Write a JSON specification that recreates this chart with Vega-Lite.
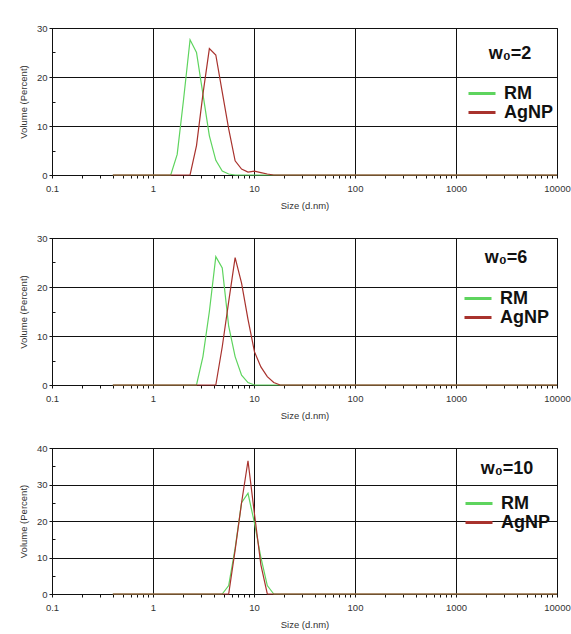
{
  "$schema": "https://vega.github.io/schema/vega-lite/v6.json",
  "background": "white",
  "padding": {"left": 17, "top": 22, "right": 0, "bottom": 5},
  "bounds": "flush",
  "spacing": 63,
  "data": {"values": [
    {"panel": "2", "series": "RM", "size": 0.4, "volume": 0},
    {"panel": "2", "series": "RM", "size": 1.499, "volume": 0},
    {"panel": "2", "series": "RM", "size": 1.736, "volume": 4.2},
    {"panel": "2", "series": "RM", "size": 2.01, "volume": 15.5},
    {"panel": "2", "series": "RM", "size": 2.328, "volume": 27.6},
    {"panel": "2", "series": "RM", "size": 2.696, "volume": 25},
    {"panel": "2", "series": "RM", "size": 3.122, "volume": 16.5},
    {"panel": "2", "series": "RM", "size": 3.615, "volume": 8},
    {"panel": "2", "series": "RM", "size": 4.187, "volume": 3},
    {"panel": "2", "series": "RM", "size": 4.849, "volume": 0.8},
    {"panel": "2", "series": "RM", "size": 5.615, "volume": 0.2},
    {"panel": "2", "series": "RM", "size": 6.503, "volume": 0},
    {"panel": "2", "series": "RM", "size": 10000, "volume": 0},
    {"panel": "2", "series": "AgNP", "size": 0.4, "volume": 0},
    {"panel": "2", "series": "AgNP", "size": 2.328, "volume": 0},
    {"panel": "2", "series": "AgNP", "size": 2.696, "volume": 6},
    {"panel": "2", "series": "AgNP", "size": 3.122, "volume": 16.5},
    {"panel": "2", "series": "AgNP", "size": 3.615, "volume": 25.8},
    {"panel": "2", "series": "AgNP", "size": 4.187, "volume": 24.5},
    {"panel": "2", "series": "AgNP", "size": 4.849, "volume": 16.9},
    {"panel": "2", "series": "AgNP", "size": 5.615, "volume": 9.4},
    {"panel": "2", "series": "AgNP", "size": 6.503, "volume": 2.9},
    {"panel": "2", "series": "AgNP", "size": 7.531, "volume": 1.2},
    {"panel": "2", "series": "AgNP", "size": 8.721, "volume": 0.6},
    {"panel": "2", "series": "AgNP", "size": 10.1, "volume": 0.8},
    {"panel": "2", "series": "AgNP", "size": 11.7, "volume": 0.5},
    {"panel": "2", "series": "AgNP", "size": 13.54, "volume": 0.2},
    {"panel": "2", "series": "AgNP", "size": 15.69, "volume": 0},
    {"panel": "2", "series": "AgNP", "size": 10000, "volume": 0},
    {"panel": "6", "series": "RM", "size": 0.4, "volume": 0},
    {"panel": "6", "series": "RM", "size": 2.696, "volume": 0},
    {"panel": "6", "series": "RM", "size": 3.122, "volume": 5.8},
    {"panel": "6", "series": "RM", "size": 3.615, "volume": 15},
    {"panel": "6", "series": "RM", "size": 4.187, "volume": 26.2},
    {"panel": "6", "series": "RM", "size": 4.849, "volume": 23.9},
    {"panel": "6", "series": "RM", "size": 5.615, "volume": 12},
    {"panel": "6", "series": "RM", "size": 6.503, "volume": 5.8},
    {"panel": "6", "series": "RM", "size": 7.531, "volume": 2},
    {"panel": "6", "series": "RM", "size": 8.721, "volume": 0.5},
    {"panel": "6", "series": "RM", "size": 10.1, "volume": 0},
    {"panel": "6", "series": "RM", "size": 10000, "volume": 0},
    {"panel": "6", "series": "AgNP", "size": 0.4, "volume": 0},
    {"panel": "6", "series": "AgNP", "size": 4.187, "volume": 0},
    {"panel": "6", "series": "AgNP", "size": 4.849, "volume": 7.8},
    {"panel": "6", "series": "AgNP", "size": 5.615, "volume": 17},
    {"panel": "6", "series": "AgNP", "size": 6.503, "volume": 26},
    {"panel": "6", "series": "AgNP", "size": 7.531, "volume": 20.8},
    {"panel": "6", "series": "AgNP", "size": 8.721, "volume": 13.4},
    {"panel": "6", "series": "AgNP", "size": 10.1, "volume": 6.8},
    {"panel": "6", "series": "AgNP", "size": 11.7, "volume": 3.7},
    {"panel": "6", "series": "AgNP", "size": 13.54, "volume": 1.7},
    {"panel": "6", "series": "AgNP", "size": 15.69, "volume": 0.5},
    {"panel": "6", "series": "AgNP", "size": 18.17, "volume": 0},
    {"panel": "6", "series": "AgNP", "size": 10000, "volume": 0},
    {"panel": "10", "series": "RM", "size": 0.4, "volume": 0},
    {"panel": "10", "series": "RM", "size": 4.849, "volume": 0},
    {"panel": "10", "series": "RM", "size": 5.615, "volume": 2.3},
    {"panel": "10", "series": "RM", "size": 6.503, "volume": 12.5},
    {"panel": "10", "series": "RM", "size": 7.531, "volume": 25},
    {"panel": "10", "series": "RM", "size": 8.721, "volume": 27.6},
    {"panel": "10", "series": "RM", "size": 10.1, "volume": 19.5},
    {"panel": "10", "series": "RM", "size": 11.7, "volume": 10},
    {"panel": "10", "series": "RM", "size": 13.54, "volume": 2.3},
    {"panel": "10", "series": "RM", "size": 15.69, "volume": 0},
    {"panel": "10", "series": "RM", "size": 10000, "volume": 0},
    {"panel": "10", "series": "AgNP", "size": 0.4, "volume": 0},
    {"panel": "10", "series": "AgNP", "size": 5.615, "volume": 0},
    {"panel": "10", "series": "AgNP", "size": 6.503, "volume": 12},
    {"panel": "10", "series": "AgNP", "size": 7.531, "volume": 25},
    {"panel": "10", "series": "AgNP", "size": 8.721, "volume": 36.5},
    {"panel": "10", "series": "AgNP", "size": 10.1, "volume": 22},
    {"panel": "10", "series": "AgNP", "size": 11.7, "volume": 8},
    {"panel": "10", "series": "AgNP", "size": 13.54, "volume": 0},
    {"panel": "10", "series": "AgNP", "size": 10000, "volume": 0}
  ]},
  "vconcat": [
    {
      "width": 505, "height": 147,
      "transform": [{"filter": "datum.panel === '2'"}],
      "mark": {"type": "line", "strokeWidth": 1.2},
      "encoding": {
        "x": {"field": "size", "type": "quantitative", "scale": {"type": "log", "domain": [0.1, 10000], "nice": false},
          "axis": {"title": "Size (d.nm)", "grid": true,
            "values": [0.1, 0.2, 0.3, 0.4, 0.5, 0.6, 0.7, 0.8, 0.9, 1, 2, 3, 4, 5, 6, 7, 8, 9, 10, 20, 30, 40, 50, 60, 70, 80, 90, 100, 200, 300, 400, 500, 600, 700, 800, 900, 1000, 2000, 3000, 4000, 5000, 6000, 7000, 8000, 9000, 10000],
            "format": "~g",
            "labelExpr": "abs(log(datum.value)/LN10 - round(log(datum.value)/LN10)) < 0.001 ? datum.label : ''",
            "gridOpacity": {"condition": {"test": "abs(log(datum.value)/LN10 - round(log(datum.value)/LN10)) < 0.001", "value": 1}, "value": 0}}},
        "y": {"field": "volume", "type": "quantitative", "scale": {"domain": [0, 30], "nice": false},
          "axis": {"title": "Volume (Percent)", "grid": true, "values": [0, 5, 10, 15, 20, 25, 30],
            "labelExpr": "datum.value % 10 === 0 ? datum.label : ''",
            "gridOpacity": {"condition": {"test": "datum.value % 10 === 0", "value": 1}, "value": 0},
            "tickSize": {"condition": {"test": "datum.value % 10 === 0", "value": 3}, "value": -3}}},
        "color": {"field": "series", "type": "nominal", "scale": {"domain": ["RM", "AgNP"], "range": ["#5ed45e", "#a8322d"]},
          "legend": {"title": "w₀=2", "legendX": 415, "legendY": 17, "titlePadding": 22,
            "encode": {"symbols": {"update": {"stroke": {"signal": "datum.value === 'RM' ? '#2fad4f' : '#d9262f'"}}}}}}
      }
    },
    {
      "width": 505, "height": 147,
      "transform": [{"filter": "datum.panel === '6'"}],
      "mark": {"type": "line", "strokeWidth": 1.2},
      "encoding": {
        "x": {"field": "size", "type": "quantitative", "scale": {"type": "log", "domain": [0.1, 10000], "nice": false},
          "axis": {"title": "Size (d.nm)", "grid": true,
            "values": [0.1, 0.2, 0.3, 0.4, 0.5, 0.6, 0.7, 0.8, 0.9, 1, 2, 3, 4, 5, 6, 7, 8, 9, 10, 20, 30, 40, 50, 60, 70, 80, 90, 100, 200, 300, 400, 500, 600, 700, 800, 900, 1000, 2000, 3000, 4000, 5000, 6000, 7000, 8000, 9000, 10000],
            "format": "~g",
            "labelExpr": "abs(log(datum.value)/LN10 - round(log(datum.value)/LN10)) < 0.001 ? datum.label : ''",
            "gridOpacity": {"condition": {"test": "abs(log(datum.value)/LN10 - round(log(datum.value)/LN10)) < 0.001", "value": 1}, "value": 0}}},
        "y": {"field": "volume", "type": "quantitative", "scale": {"domain": [0, 30], "nice": false},
          "axis": {"title": "Volume (Percent)", "grid": true, "values": [0, 5, 10, 15, 20, 25, 30],
            "labelExpr": "datum.value % 10 === 0 ? datum.label : ''",
            "gridOpacity": {"condition": {"test": "datum.value % 10 === 0", "value": 1}, "value": 0},
            "tickSize": {"condition": {"test": "datum.value % 10 === 0", "value": 3}, "value": -3}}},
        "color": {"field": "series", "type": "nominal", "scale": {"domain": ["RM", "AgNP"], "range": ["#5ed45e", "#a8322d"]},
          "legend": {"title": "w₀=6", "legendX": 411, "legendY": 11, "titlePadding": 23,
            "encode": {"symbols": {"update": {"stroke": {"signal": "datum.value === 'RM' ? '#2fad4f' : '#d9262f'"}}}}}}
      }
    },
    {
      "width": 505, "height": 146,
      "transform": [{"filter": "datum.panel === '10'"}],
      "mark": {"type": "line", "strokeWidth": 1.2},
      "encoding": {
        "x": {"field": "size", "type": "quantitative", "scale": {"type": "log", "domain": [0.1, 10000], "nice": false},
          "axis": {"title": "Size (d.nm)", "grid": true,
            "values": [0.1, 0.2, 0.3, 0.4, 0.5, 0.6, 0.7, 0.8, 0.9, 1, 2, 3, 4, 5, 6, 7, 8, 9, 10, 20, 30, 40, 50, 60, 70, 80, 90, 100, 200, 300, 400, 500, 600, 700, 800, 900, 1000, 2000, 3000, 4000, 5000, 6000, 7000, 8000, 9000, 10000],
            "format": "~g",
            "labelExpr": "abs(log(datum.value)/LN10 - round(log(datum.value)/LN10)) < 0.001 ? datum.label : ''",
            "gridOpacity": {"condition": {"test": "abs(log(datum.value)/LN10 - round(log(datum.value)/LN10)) < 0.001", "value": 1}, "value": 0}}},
        "y": {"field": "volume", "type": "quantitative", "scale": {"domain": [0, 40], "nice": false},
          "axis": {"title": "Volume (Percent)", "grid": true, "values": [0, 5, 10, 15, 20, 25, 30, 35, 40],
            "labelExpr": "datum.value % 10 === 0 ? datum.label : ''",
            "gridOpacity": {"condition": {"test": "datum.value % 10 === 0", "value": 1}, "value": 0},
            "tickSize": {"condition": {"test": "datum.value % 10 === 0", "value": 3}, "value": -3}}},
        "color": {"field": "series", "type": "nominal", "scale": {"domain": ["RM", "AgNP"], "range": ["#5ed45e", "#a8322d"]},
          "legend": {"title": "w₀=10", "legendX": 412, "legendY": 12, "titlePadding": 17,
            "encode": {"symbols": {"update": {"stroke": {"signal": "datum.value === 'RM' ? '#2fad4f' : '#d9262f'"}}}}}}
      }
    }
  ],
  "resolve": {"scale": {"color": "independent"}, "legend": {"color": "independent"}},
  "config": {
    "view": {"stroke": "#111", "strokeWidth": 1},
    "axis": {
      "labelFont": "Liberation Sans", "titleFont": "Liberation Sans",
      "labelFontSize": 9.5, "titleFontSize": 9.5, "titleFontWeight": "normal",
      "labelColor": "#333", "titleColor": "#333",
      "domainColor": "#111", "tickColor": "#111", "gridColor": "#111", "gridWidth": 1
    },
    "axisX": {
      "tickSize": 3,
      "labelOverlap": false, "labelFlush": false, "labelBound": false,
      "labelPadding": 5, "titlePadding": 8
    },
    "axisY": {
      "labelPadding": 2, "titlePadding": 8
    },
    "legend": {
      "orient": "none", "padding": 0,
      "symbolType": "stroke", "symbolStrokeWidth": 3, "symbolSize": 729,
      "titleFont": "Liberation Sans", "titleFontSize": 18, "titleFontWeight": "bold", "titleColor": "#111",
      "titleAnchor": "middle",
      "labelFont": "Liberation Sans", "labelFontSize": 18, "labelFontWeight": "bold", "labelColor": "#111",
      "labelOffset": 7, "rowPadding": 0, "clipHeight": 17
    }
  }
}
